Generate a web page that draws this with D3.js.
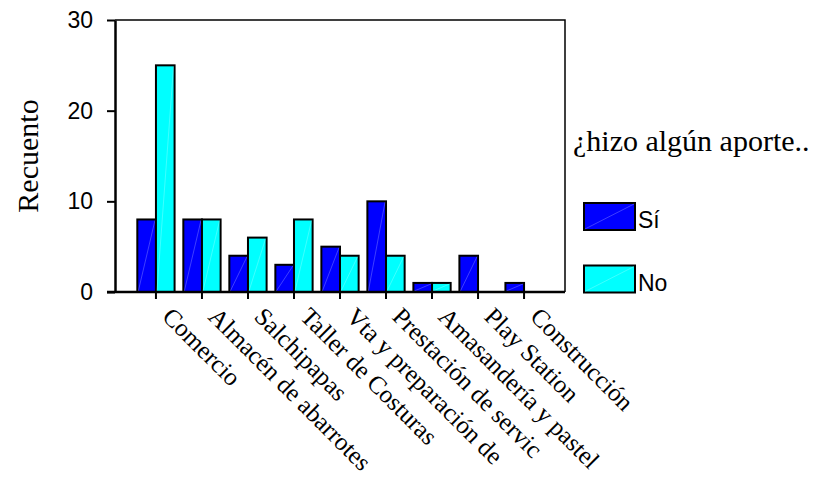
<!DOCTYPE html>
<html>
<head>
<meta charset="utf-8">
<script src="https://cdn.jsdelivr.net/npm/d3@7"></script>
<style>
  body { margin: 0; background: #fff; }
  svg { display: block; }
</style>
</head>
<body>
<div id="chart"></div>
<script>
// categories and counts
var categories = ["Comercio", "Almacén de abarrotes", "Salchipapas", "Taller de Costuras",
  "Vta y preparación de", "Prestación de servic", "Amasandería y pastel", "Play Station", "Construcción"];
var series = ["Sí", "No"];
var siValues = [8, 8, 4, 3, 5, 10, 1, 4, 1];
var noValues = [25, 8, 6, 8, 4, 4, 1, 0, 0];
var yTicks = [0, 10, 20, 30];
var colors = ["#0000ff", "#00ffff"];

var width = 821, height = 477;
var margin = {left: 115, right: 565, top: 20, bottom: 292};

var svg = d3.select("#chart").append("svg")
  .attr("width", width)
  .attr("height", height);

var x = d3.scaleBand().domain(categories).range([margin.left, margin.right]).paddingInner(0).paddingOuter(0.39);
var xSub = d3.scaleBand().domain(series)
  .range([x.bandwidth() * 0.095, x.bandwidth() * 0.905]);
var y = d3.scaleLinear().domain([0, 30]).range([margin.bottom, margin.top]);
var color = d3.scaleOrdinal().domain(series).range(colors);

var rows = categories.map(function(c, i) {
  return { cat: c, vals: [{ s: "Sí", v: siValues[i] }, { s: "No", v: noValues[i] }] };
});

// frame (top and right)
svg.append("path")
  .attr("d", "M" + margin.left + "," + margin.top + "H" + margin.right + "V" + margin.bottom)
  .attr("fill", "none").attr("stroke", "#000").attr("stroke-width", 1.5);

// bars
var groups = svg.selectAll(".grp").data(rows).enter().append("g")
  .attr("class", "grp")
  .attr("transform", function(d) { return "translate(" + x(d.cat) + ",0)"; });

groups.selectAll("g.bar").data(function(d) { return d.vals.filter(function(e) { return e.v > 0; }); })
  .enter().append("g").attr("class", "bar")
  .each(function(d) {
    var g = d3.select(this);
    var x0 = xSub(d.s), w = xSub.bandwidth(), y0 = y(d.v), h = y(0) - y(d.v);
    g.append("rect")
      .attr("x", x0).attr("y", y0).attr("width", w).attr("height", h)
      .attr("fill", color(d.s)).attr("stroke", "#000").attr("stroke-width", 2);
    g.append("line")
      .attr("x1", x0 + 1).attr("y1", y(0) - 1)
      .attr("x2", x0 + w - 1).attr("y2", y0 + 1)
      .attr("stroke", "#ffffff").attr("stroke-opacity", 0.35).attr("stroke-width", 0.7);
  });

// y axis
var yAxis = svg.append("g")
  .attr("transform", "translate(" + margin.left + ",0)")
  .call(d3.axisLeft(y).tickValues(yTicks).tickSize(8).tickPadding(14).tickSizeOuter(0));
yAxis.select(".domain").attr("stroke-width", 2.5);
yAxis.selectAll(".tick line").attr("stroke-width", 2);
yAxis.selectAll(".tick text")
  .style("font-family", "'Liberation Sans', Arial, sans-serif")
  .style("font-size", "23px").attr("fill", "#000");

// x axis
var xAxis = svg.append("g")
  .attr("transform", "translate(0," + margin.bottom + ")")
  .call(d3.axisBottom(x).tickSize(7).tickSizeOuter(0));
xAxis.select(".domain").attr("d", "M" + (margin.left - 8) + ",0H" + margin.right).attr("stroke-width", 2.5);
xAxis.selectAll(".tick line").attr("stroke-width", 2);
xAxis.selectAll(".tick text")
  .attr("x", 0).attr("y", 0).attr("dy", 0)
  .attr("transform", "translate(5,26) rotate(45)")
  .style("text-anchor", "start")
  .style("font-family", "'Liberation Serif', 'Times New Roman', serif")
  .style("font-size", "25px").attr("fill", "#000");

// y title
svg.append("text")
  .attr("transform", "translate(38," + ((margin.top + margin.bottom) / 2) + ") rotate(-90)")
  .attr("text-anchor", "middle")
  .style("font-family", "'Liberation Serif', 'Times New Roman', serif")
  .style("font-size", "30px")
  .text("Recuento");

// legend
svg.append("text")
  .attr("x", 573).attr("y", 151)
  .style("font-family", "'Liberation Serif', 'Times New Roman', serif")
  .style("font-size", "30px")
  .text("¿hizo algún aporte..");

var leg = svg.selectAll(".leg").data(series).enter().append("g")
  .attr("class", "leg")
  .attr("transform", function(d, i) { return "translate(584," + (203 + i * 62.5) + ")"; });
leg.append("rect")
  .attr("width", 51).attr("height", 27)
  .attr("fill", function(d) { return color(d); })
  .attr("stroke", "#000").attr("stroke-width", 2);
leg.append("line")
  .attr("x1", 1).attr("y1", 26).attr("x2", 50).attr("y2", 1)
  .attr("stroke", "#fff").attr("stroke-opacity", 0.35).attr("stroke-width", 0.7);
leg.append("text")
  .attr("x", 54).attr("y", 25)
  .style("font-family", "'Liberation Sans', Arial, sans-serif")
  .style("font-size", "23px")
  .text(function(d) { return d; });
</script>
</body>
</html>
